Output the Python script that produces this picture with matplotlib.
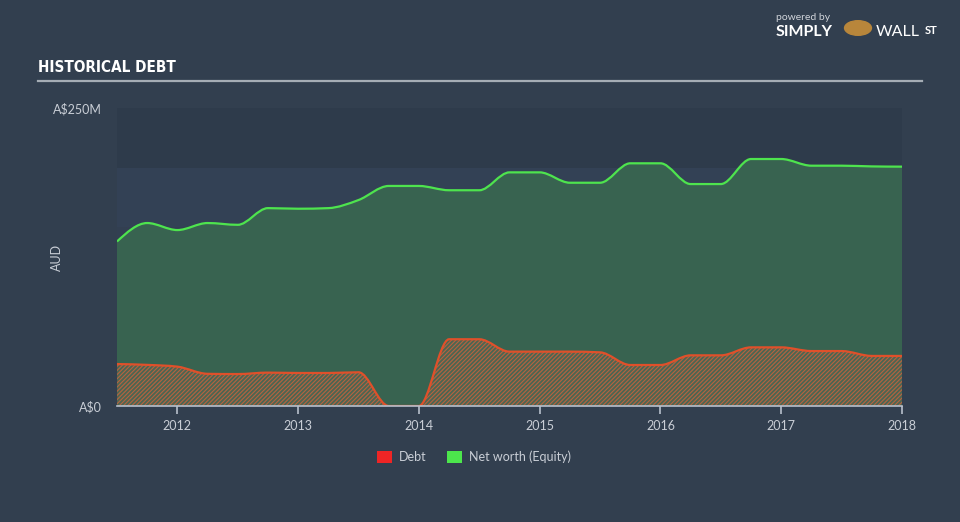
import matplotlib
matplotlib.use("Agg")
import matplotlib.pyplot as plt
from matplotlib.path import Path
from matplotlib.patches import PathPatch, Patch
import numpy as np

# quarterly dates (decimal years) and values in A$ millions
dates = [2011.50, 2011.75, 2012.00, 2012.25, 2012.50, 2012.75, 2013.00, 2013.25,
         2013.50, 2013.75, 2014.00, 2014.25, 2014.50, 2014.75, 2015.00, 2015.25,
         2015.50, 2015.75, 2016.00, 2016.25, 2016.50, 2016.75, 2017.00, 2017.25,
         2017.50, 2017.75, 2018.00]
equity = [138.0, 153.5, 147.6, 153.5, 152.0, 166.0, 165.5, 166.0,
          172.8, 184.6, 184.6, 181.0, 181.0, 196.0, 196.0, 187.3,
          187.3, 203.6, 203.6, 186.2, 186.2, 207.2, 207.2, 201.6,
          201.6, 201.0, 200.8]
debt = [35.2, 34.5, 33.0, 27.0, 26.8, 28.0, 27.7, 27.7,
        28.3, 0.0, 0.0, 56.0, 56.0, 45.6, 45.6, 45.6,
        45.0, 34.4, 34.4, 42.5, 42.5, 49.2, 49.2, 46.1,
        46.1, 42.0, 42.0]

year_ticks = [2012, 2013, 2014, 2015, 2016, 2017, 2018]
y_ticks = [0, 250]
y_tick_labels = ["A$0", "A$250M"]

BG = "#323f4f"
GREEN_LINE = "#4ee44e"
GREEN_FILL = "#386350"
RED_LINE = "#e0502a"
TEXT = "#c9ced6"


def monotone_path(xs, ys, close_to_zero=False):
    # cubic bezier segments with monotone tangents, like d3 curveMonotoneX
    xs = np.asarray(xs, float)
    ys = np.asarray(ys, float)
    n = len(xs)
    h = np.diff(xs)
    s = np.diff(ys) / h
    m = np.zeros(n)
    for i in range(1, n - 1):
        p = (s[i - 1] * h[i] + s[i] * h[i - 1]) / (h[i - 1] + h[i])
        m[i] = (np.sign(s[i - 1]) + np.sign(s[i])) * min(abs(s[i - 1]), abs(s[i]), 0.5 * abs(p))
    m[0] = (3 * s[0] - m[1]) / 2
    m[-1] = (3 * s[-1] - m[-2]) / 2
    verts = [(xs[0], ys[0])]
    codes = [Path.MOVETO]
    for i in range(n - 1):
        d = h[i] / 3
        verts += [(xs[i] + d, ys[i] + m[i] * d),
                  (xs[i + 1] - d, ys[i + 1] - m[i + 1] * d),
                  (xs[i + 1], ys[i + 1])]
        codes += [Path.CURVE4] * 3
    if close_to_zero:
        verts += [(xs[-1], 0), (xs[0], 0), (xs[0], 0)]
        codes += [Path.LINETO, Path.LINETO, Path.CLOSEPOLY]
    return Path(verts, codes)


fig = plt.figure(figsize=(9.6, 5.22), dpi=100)
fig.patch.set_facecolor(BG)
ax = fig.add_axes([117 / 960, 1 - 406 / 522, 785 / 960, 298 / 522])
ax.set_facecolor(BG)

# background bands
ax.axhspan(200, 250, color="#2e3b4b", lw=0, zorder=0)
ax.axhspan(150, 200, color="#334155", lw=0, zorder=0)
ax.axhspan(100, 150, color="#323f51", lw=0, zorder=0)
ax.axhspan(50, 100, color="#334053", lw=0, zorder=0)
ax.axhspan(0, 50, color="#323f51", lw=0, zorder=0)

# equity
ax.add_patch(PathPatch(monotone_path(dates, equity, True), facecolor=GREEN_FILL,
                       edgecolor="none", lw=0, zorder=1))
ax.add_patch(PathPatch(monotone_path(dates, equity), facecolor="none",
                       edgecolor=GREEN_LINE, lw=1.6, zorder=3))

# debt
plt.rcParams["hatch.linewidth"] = 0.8
ax.add_patch(PathPatch(monotone_path(dates, debt, True), facecolor="#4b6652",
                       edgecolor="#b8623f", hatch="////////", lw=0, zorder=2))
ax.add_patch(PathPatch(monotone_path(dates, debt), facecolor="none",
                       edgecolor=RED_LINE, lw=1.6, zorder=3))

ax.set_xlim(dates[0], dates[-1])
ax.set_ylim(0, 250)

for side in ["top", "right", "left"]:
    ax.spines[side].set_visible(False)
ax.spines["bottom"].set_color("#b8c0cc")
ax.spines["bottom"].set_linewidth(1.2)
ax.spines["bottom"].set_zorder(4)

ax.set_xticks(year_ticks)
ax.set_xticklabels([str(y) for y in year_ticks])
ax.tick_params(axis="x", colors="#b8c0cc", length=6, width=1.2, pad=4,
               labelcolor=TEXT, labelsize=9)
ax.set_yticks(y_ticks)
ax.set_yticklabels(y_tick_labels)
ax.tick_params(axis="y", length=0, pad=11, labelcolor=TEXT, labelsize=9)
for lbl in ax.get_xticklabels() + ax.get_yticklabels():
    lbl.set_family("Lato")

ax.set_ylabel("AUD", color=TEXT, fontsize=9, family="Lato")
ax.yaxis.set_label_coords(-54 / 785, 0.5)

# title and rule
fig.text(38 / 960, 1 - 68 / 522, "HISTORICAL DEBT", color="white", fontsize=11,
         fontweight="bold", family="DejaVu Sans", fontstretch="condensed",
         va="center", ha="left")
fig.add_artist(plt.Line2D([38 / 960, 922 / 960], [1 - 81 / 522, 1 - 81 / 522],
                          color="#a5adb5", lw=1.6))

# branding
fig.text(776 / 960, 1 - 18 / 522, "powered by", color="#d0d4da", fontsize=7.5,
         family="Lato", va="center", ha="left")
fig.text(776 / 960, 1 - 32 / 522, "SIMPLY", color="white", fontsize=11.5,
         fontweight="bold", family="Lato", va="center", ha="left")
fig.text(876 / 960, 1 - 32 / 522, "WALL", color="white", fontsize=11.5,
         family="Lato", va="center", ha="left")
fig.text(925 / 960, 1 - 30 / 522, "ST", color="white", fontsize=8,
         fontweight="bold", family="Lato", va="center", ha="left")
fig.add_artist(plt.Circle((858 / 960, 1 - 28 / 522), 0.014, transform=fig.transFigure,
                          color="#b8863b", zorder=5))

# legend
handles = [Patch(facecolor="#ee2525", edgecolor="none", label="Debt"),
           Patch(facecolor="#4ce64c", edgecolor="none", label="Net worth (Equity)")]
leg = fig.legend(handles=handles, loc="center", bbox_to_anchor=(474 / 960, 1 - 457 / 522),
                 ncol=2, frameon=False, handlelength=1.2, handleheight=1.0,
                 handletextpad=0.6, columnspacing=1.6, prop={"family": "Lato", "size": 9})
for t in leg.get_texts():
    t.set_color(TEXT)

fig.savefig("out.png", dpi=100, facecolor=BG)
